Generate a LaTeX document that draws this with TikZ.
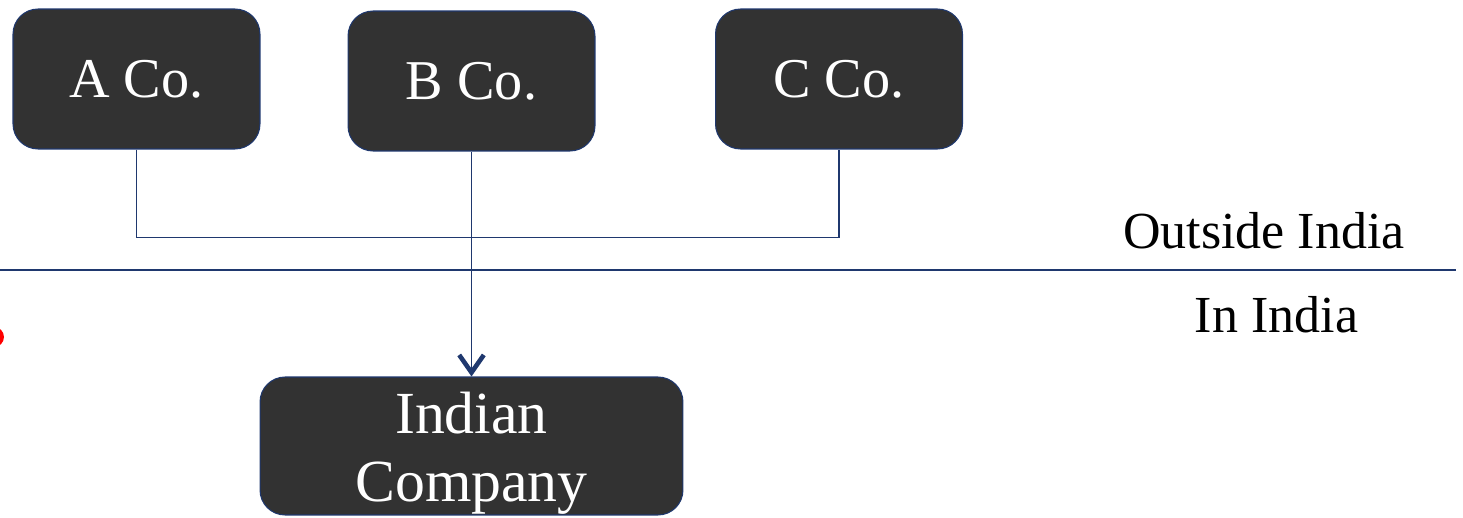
\documentclass[tikz,border=0pt]{standalone}
\usepackage{fontspec}
\setmainfont{Liberation Serif}
\usetikzlibrary{arrows.meta}
\definecolor{boxgray}{RGB}{50,50,50}
\definecolor{navy}{RGB}{31,56,110}
\begin{document}
\begin{tikzpicture}[x=0.02cm, y=-0.02cm,
    company/.style={draw=navy, line width=0.6pt, fill=boxgray, rounded corners=0.5cm,
      text=white, font=\fontsize{32}{36}\selectfont, inner sep=0pt,
      minimum width=4.94cm, minimum height=2.8cm},
    link/.style={draw=navy, line width=0.85pt},
    region/.style={font=\fontsize{29.6}{34}\selectfont, inner sep=0pt, anchor=base}]
        \useasboundingbox (0,0) rectangle (1463,517);

        % Red marker at the left edge
        \fill[red] (-6,337) circle (10);

        % Companies outside India
        \node[company] (a) at (136.5,79) {A Co.};
        \node[company] (b) at (471.5,81) {B Co.};
        \node[company] (c) at (839,79) {C Co.};

        % Indian company
        \node[company, minimum width=8.46cm, minimum height=2.76cm,
          font=\fontsize{34}{38.7}\selectfont, align=center] (ind) at (471.5,446)
          {\rule{0pt}{32pt}Indian\\Company};

        % Connectors
        \draw[link] (a.south) -- ++(0,88) -| (c.south);
        \draw[link, -{Straight Barb[length=10pt, width=14pt, line width=2.6pt]}] (b.south) -- (ind.north);

        % Border line
        \coordinate (bl) at (0,270);
        \coordinate (br) at (1456,270);
        \draw[link] (bl) -- (br);

        % Labels
        \node[region] (out) at (1264,248) {Outside India};
        \node[region] (in) at (1276.5,332) {In India};
      \end{tikzpicture}
\end{document}
